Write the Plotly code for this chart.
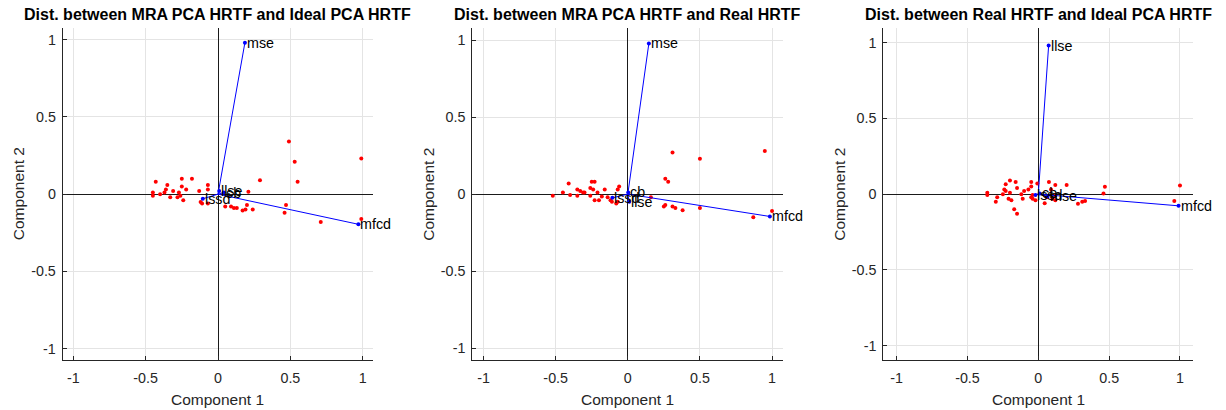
import plotly.graph_objects as go

# ---------------- data ----------------
titles = ["Dist. between MRA PCA HRTF and Ideal PCA HRTF",
          "Dist. between MRA PCA HRTF and Real HRTF",
          "Dist. between Real HRTF and Ideal PCA HRTF"]
tick_vals = [-1, -0.5, 0, 0.5, 1]
tick_text = ["-1", "-0.5", "0", "0.5", "1"]

# panel 1 scores
p1_x = [0.49, 0.99, 0.53, 0.55, 0.29, -0.43, -0.25, -0.18, -0.35, -0.25, -0.22, -0.31, -0.36, -0.37,
        -0.45, -0.45, -0.40, -0.27, -0.26, -0.33, -0.28, -0.24, -0.07, -0.07, -0.13, -0.12, -0.11,
        -0.07, 0.21, 0.05, 0.09, 0.11, 0.13, 0.20, 0.19, 0.17, 0.24, 0.47, 0.46, 0.71, 0.99]
p1_y = [0.34, 0.23, 0.21, 0.08, 0.09, 0.08, 0.10, 0.10, 0.06, 0.05, 0.03, 0.02, 0.03, 0.01,
        0.01, -0.01, 0.0, 0.01, -0.01, -0.02, -0.02, -0.04, 0.06, 0.03, 0.02, -0.05, -0.06,
        -0.06, 0.015, -0.08, -0.08, -0.09, -0.09, -0.07, -0.10, -0.105, -0.10, -0.07, -0.12, -0.18, -0.16]
# panel 1 variable coefficients
p1_var = ["mse", "mfcd", "lssd", "llse", "cb"]
p1_vx = [0.186, 0.97, -0.105, 0.008, 0.04]
p1_vy = [0.98, -0.195, -0.03, 0.02, 0.01]

# panel 2 scores
p2_x = [0.31, 0.50, 0.95, 0.26, 0.28, -0.41, -0.25, -0.23, -0.06, -0.07, -0.35, -0.33, -0.31, -0.30,
        -0.26, -0.24, -0.21, -0.16, -0.45, -0.52, -0.40, -0.35, -0.26, -0.18, -0.23, -0.20, -0.14,
        -0.12, -0.11, -0.08, -0.07, 0.16, 0.25, 0.26, 0.31, 0.33, 0.38, 0.50, 0.87, 1.00]
p2_y = [0.27, 0.23, 0.28, 0.10, 0.08, 0.07, 0.08, 0.08, 0.05, 0.03, 0.03, 0.02, 0.01, 0.01,
        0.04, 0.03, 0.01, 0.03, 0.01, -0.01, -0.005, -0.01, -0.01, -0.015, -0.04, -0.04, -0.02,
        -0.04, -0.05, -0.06, -0.05, -0.02, -0.08, -0.07, -0.08, -0.09, -0.105, -0.09, -0.15, -0.11]
p2_var = ["mse", "mfcd", "lssd", "llse", "cb"]
p2_vx = [0.146, 0.985, -0.107, 0.01, 0.003]
p2_vy = [0.98, -0.145, -0.024, -0.05, 0.011]

# panel 3 scores
p3_x = [1.00, 0.96, 0.47, 0.46, 0.33, 0.31, 0.28, 0.20, 0.12, 0.075, 0.09, 0.12, 0.12, 0.10,
        0.045, 0.06, -0.007, -0.05, -0.05, -0.07, -0.10, -0.12, -0.11, -0.05, -0.04, -0.02,
        -0.04, -0.16, -0.20, -0.23, -0.24, -0.23, -0.20, -0.15, -0.19, -0.21, -0.17, -0.15,
        -0.29, -0.30, -0.36, -0.36, -0.25]
p3_y = [0.057, -0.046, 0.048, 0.005, -0.046, -0.05, -0.064, 0.06, 0.06, 0.08, 0.03, -0.01, -0.04, -0.03,
        -0.06, -0.02, 0.07, 0.08, 0.05, 0.03, 0.02, 0.0, -0.03, -0.02, -0.03, -0.04,
        -0.005, 0.08, 0.09, 0.065, 0.03, 0.02, 0.01, 0.04, -0.04, -0.03, -0.10, -0.13,
        -0.02, -0.05, 0.01, -0.005, 0.0]
p3_var = ["llse", "mfcd", "lssd", "cb", "mse"]
p3_vx = [0.073, 0.99, -0.02, 0.01, 0.065]
p3_vy = [0.98, -0.077, -0.005, 0.005, -0.015]

panels = [
    (p1_x, p1_y, p1_var, p1_vx, p1_vy),
    (p2_x, p2_y, p2_var, p2_vx, p2_vy),
    (p3_x, p3_y, p3_var, p3_vx, p3_vy),
]
limits = [1.073, 1.078, 1.094]

# ---------------- layout geometry (pixels) ----------------
W, H = 1226, 410
x_px = [(62.7, 373.3), (472.3, 783.3), (883.3, 1193.3)]
y_top, y_bot = 28.3, 360.0
FONT = "Liberation Sans, Arial, Helvetica, sans-serif"
AXC = "#262626"

fig = go.Figure()
annotations = []
layout = dict(width=W, height=H, margin=dict(l=0, r=0, t=0, b=0),
              paper_bgcolor="white", plot_bgcolor="white", showlegend=False,
              font=dict(family=FONT, color=AXC))

for i, (sx, sy, names, vx, vy) in enumerate(panels):
    k = "" if i == 0 else str(i + 1)
    xa, ya = "x" + k, "y" + k
    lim = limits[i]
    # scores
    fig.add_trace(go.Scatter(x=sx, y=sy, xaxis=xa, yaxis=ya, mode="markers",
                             marker=dict(color="#ff0000", size=4), hoverinfo="skip"))
    # vectors
    lx, ly = [], []
    for a, b in zip(vx, vy):
        lx += [0, a, None]
        ly += [0, b, None]
    fig.add_trace(go.Scatter(x=lx, y=ly, xaxis=xa, yaxis=ya, mode="lines",
                             line=dict(color="#0000ff", width=1), hoverinfo="skip"))
    fig.add_trace(go.Scatter(x=vx, y=vy, xaxis=xa, yaxis=ya, mode="markers",
                             marker=dict(color="#0000ff", size=4), hoverinfo="skip"))
    for n, a, b in zip(names, vx, vy):
        annotations.append(dict(x=a, y=b, xref=xa, yref=ya, text=n, showarrow=False,
                                xanchor="left", yanchor="middle", xshift=1, borderpad=0,
                                font=dict(size=14.3, color="black", family=FONT)))
    x0, x1 = x_px[i]
    dom_x = [x0 / W, x1 / W]
    dom_y = [1 - y_bot / H, 1 - y_top / H]
    common = dict(range=[-lim, lim], tickvals=tick_vals, ticktext=tick_text,
                  showgrid=True, gridcolor="#e4e4e4", gridwidth=1,
                  zeroline=True, zerolinecolor="#1a1a1a", zerolinewidth=1,
                  showline=True, linecolor=AXC, linewidth=1, mirror=False,
                  ticks="inside", ticklen=4, tickcolor=AXC, tickwidth=1,
                  tickfont=dict(size=14.3, color=AXC, family=FONT), fixedrange=True)
    layout["xaxis" + k] = dict(domain=dom_x, anchor=ya, ticklabelstandoff=5, **common)
    layout["yaxis" + k] = dict(domain=dom_y, anchor=xa, ticklabelstandoff=3, **common)
    # titles
    cx = (x0 + x1) / 2 / W
    annotations.append(dict(x=cx, y=1 - 14.5 / H, xref="paper", yref="paper", text="<b>" + titles[i] + "</b>",
                            showarrow=False, xanchor="center", yanchor="middle",
                            font=dict(size=16, color="black", family=FONT)))
    annotations.append(dict(x=cx, y=1 - 399 / H, xref="paper", yref="paper", text="Component 1",
                            showarrow=False, xanchor="center", yanchor="middle",
                            font=dict(size=15.5, color=AXC, family=FONT)))
    annotations.append(dict(x=(x0 - 44.5) / W, y=1 - 194 / H, xref="paper", yref="paper", text="Component 2",
                            showarrow=False, xanchor="center", yanchor="middle", textangle=-90,
                            font=dict(size=15.5, color=AXC, family=FONT)))

layout["annotations"] = annotations
fig.update_layout(**layout)
fig.write_html("out.html")
